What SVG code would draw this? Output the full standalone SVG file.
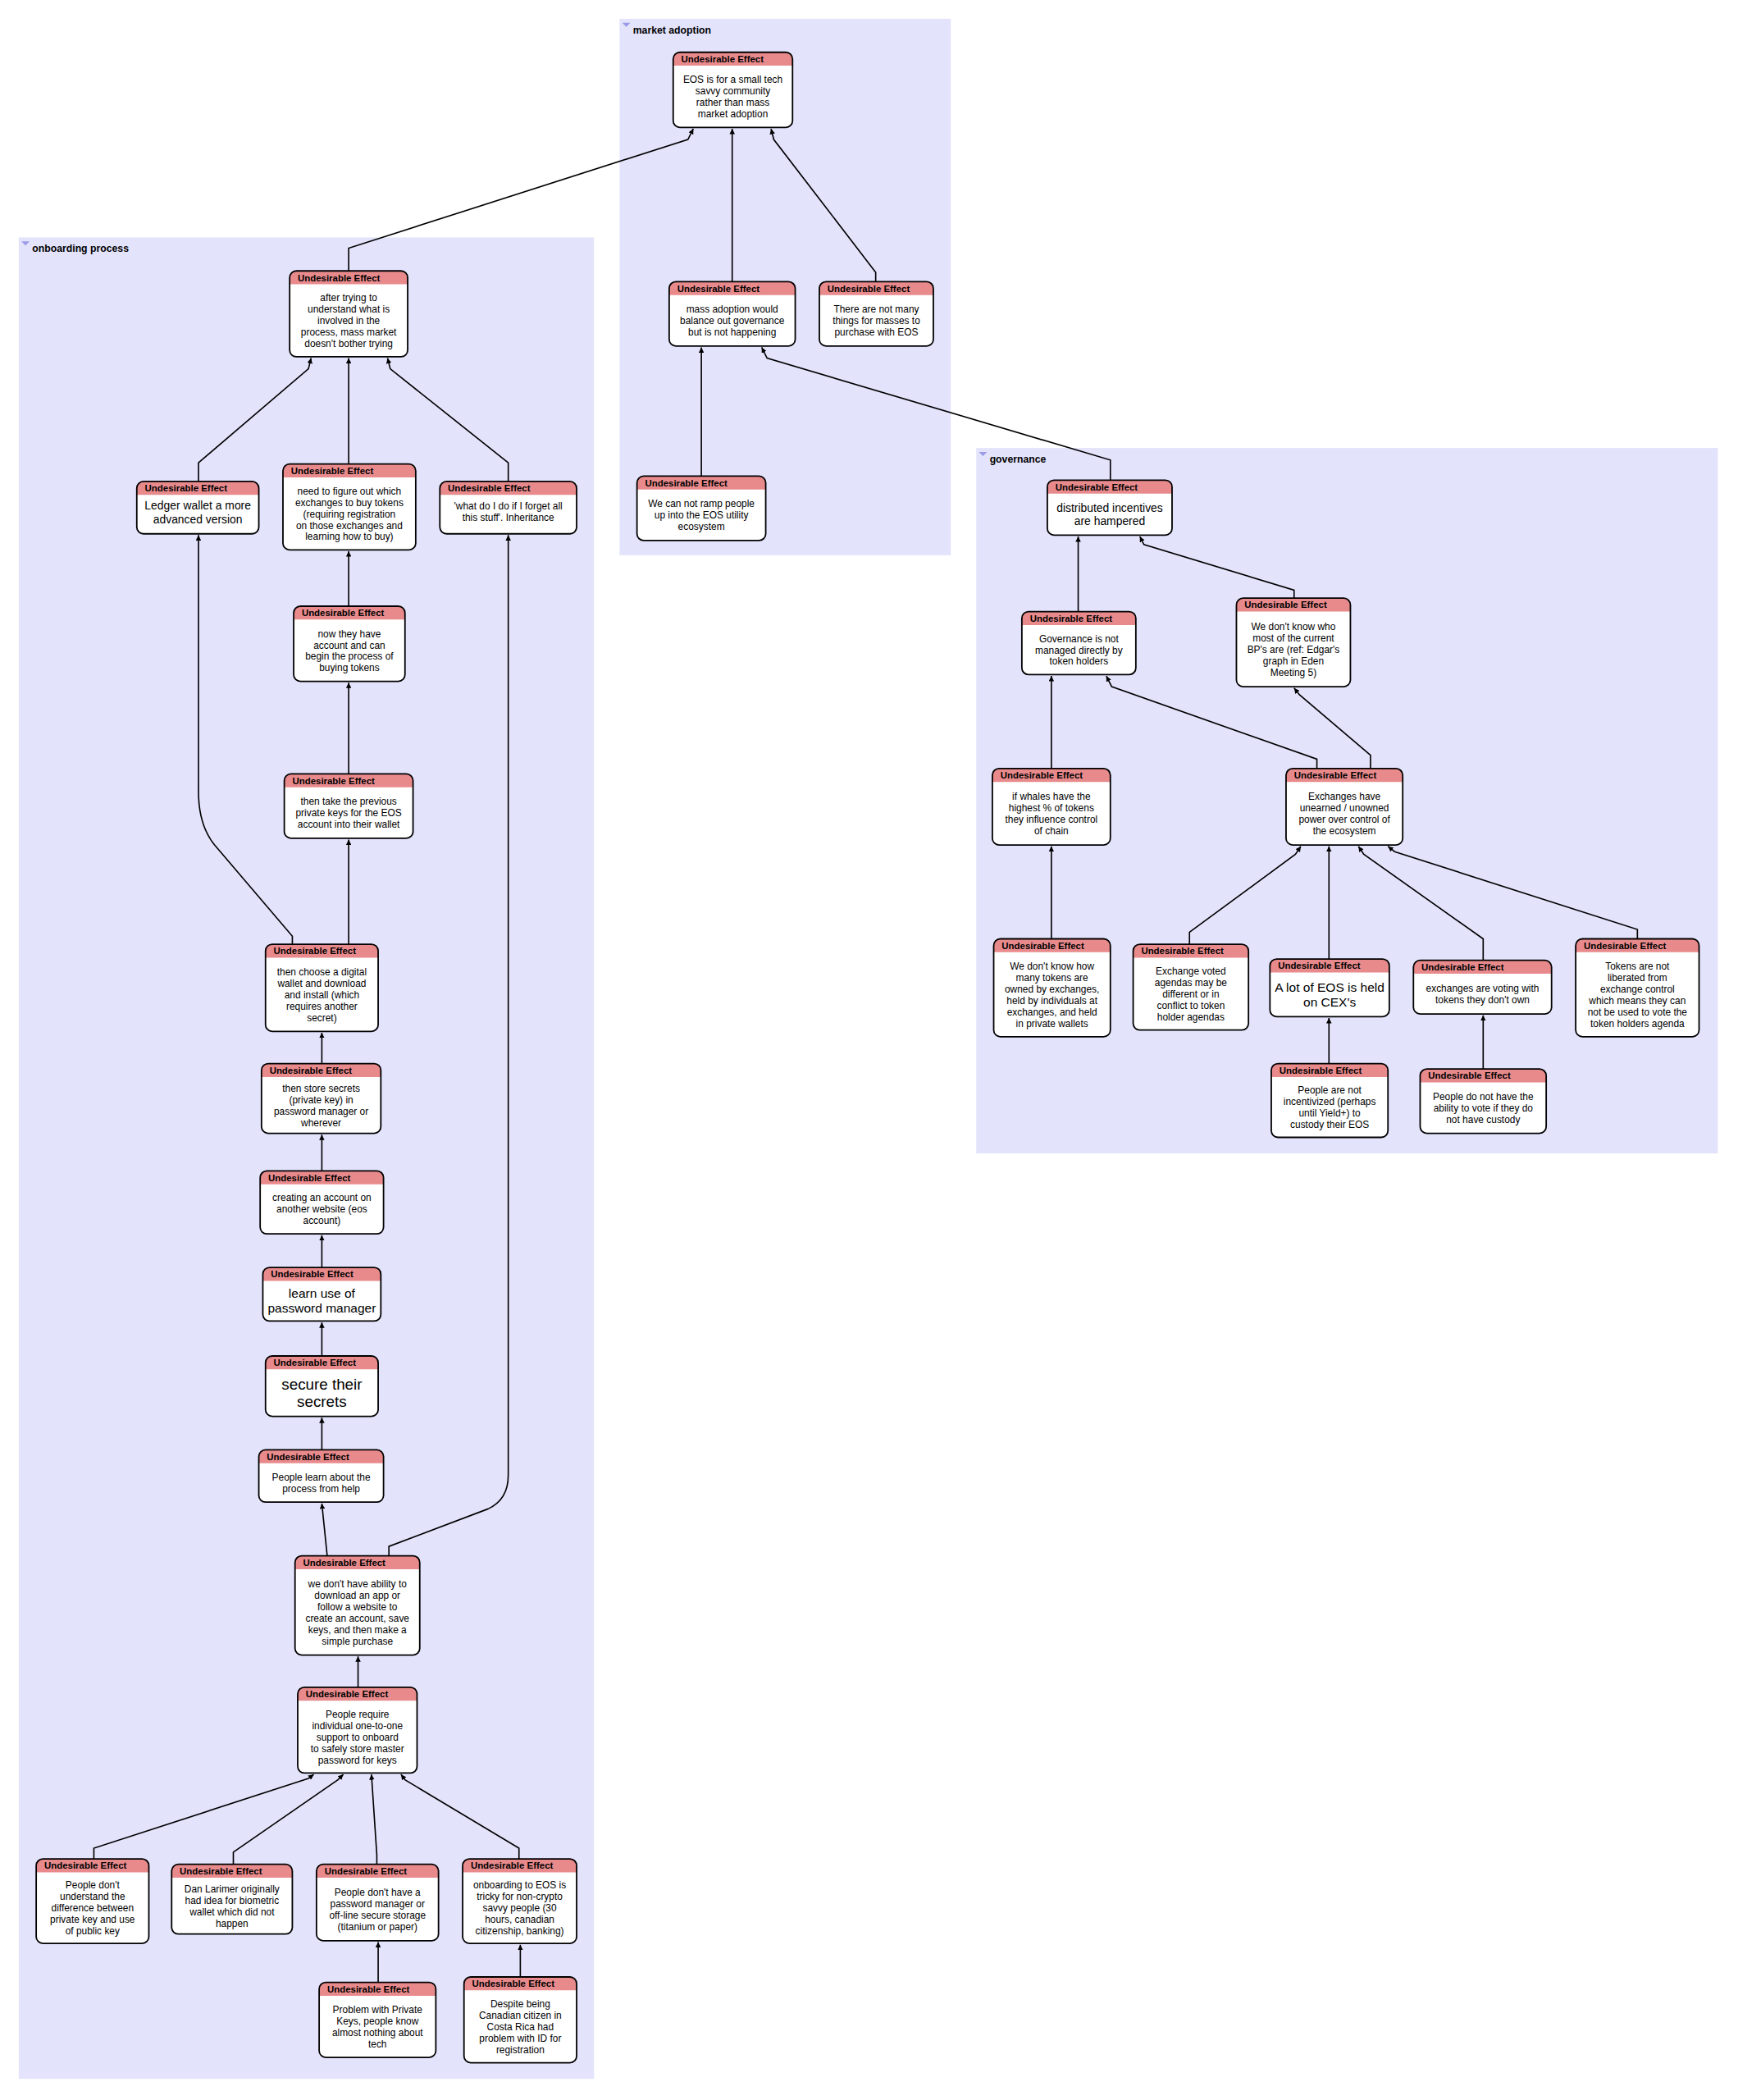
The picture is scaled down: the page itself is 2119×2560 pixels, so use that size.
<svg xmlns="http://www.w3.org/2000/svg" width="2119" height="2560" viewBox="0 0 2119 2560">
<style>
.grp{fill:#e3e3fc}
.gl{font:bold 7.5px "Liberation Sans",Arial,sans-serif;fill:#000}
.tri{fill:#9a9ae8}
.bx{fill:#fff}
.ol{fill:none;stroke:#000;stroke-width:1.1}
.hd{fill:#e88a8c}
.ht{font:bold 7px "Liberation Sans",Arial,sans-serif;fill:#000}
.t{font:7.3px "Liberation Sans",Arial,sans-serif;fill:#000;text-anchor:middle}
.t2{font:8.5px "Liberation Sans",Arial,sans-serif;fill:#000;text-anchor:middle}
.t3{font:9.5px "Liberation Sans",Arial,sans-serif;fill:#000;text-anchor:middle}
.t4{font:11.5px "Liberation Sans",Arial,sans-serif;fill:#000;text-anchor:middle}
.e{fill:none;stroke:#000;stroke-width:1;marker-end:url(#a)}
</style>
<defs>
<marker id="a" viewBox="0 0 10 10" refX="10" refY="5" markerWidth="4" markerHeight="4" orient="auto"><path d="M0,0 L10,5 L0,10 z" fill="#000"/></marker>
</defs>
<rect width="2119" height="2560" fill="#fff"/>
<g transform="scale(1.635)">
<g id="groups">
<rect class="grp" x="462" y="14" width="247" height="400"/><path class="tri" d="M464,17h6l-3,3z"/><text class="gl" x="472" y="25">market adoption</text>
<rect class="grp" x="14" y="177" width="429" height="1373"/><path class="tri" d="M16,180h6l-3,3z"/><text class="gl" x="24" y="188">onboarding process</text>
<rect class="grp" x="728" y="334" width="553" height="526"/><path class="tri" d="M730,337h6l-3,3z"/><text class="gl" x="738" y="345">governance</text>
</g>
<g id="connectors">
<path class="e" d="M260,202V185L513,104L517,96"/>
<path class="e" d="M546,210V96"/>
<path class="e" d="M653,210V203L577,104L575,96"/>
<path class="e" d="M523,355V259"/>
<path class="e" d="M828,358V343L572,267L568,259"/>
<path class="e" d="M148,359V345L230,275L232,267"/>
<path class="e" d="M260,346V267"/>
<path class="e" d="M379,359V345L291,275L289,267"/>
<path class="e" d="M260,452V411"/>
<path class="e" d="M260,577V509"/>
<path class="e" d="M260,704V626"/>
<path class="e" d="M218,704V698L160,630Q148,615 148,590V399"/>
<path class="e" d="M240,793V770"/>
<path class="e" d="M240,873V846"/>
<path class="e" d="M240,945V921"/>
<path class="e" d="M240,1011V986"/>
<path class="e" d="M240,1081V1057"/>
<path class="e" d="M244,1160L240,1121"/>
<path class="e" d="M290,1160V1153L364,1125Q379,1118 379,1100V399"/>
<path class="e" d="M267,1258V1235"/>
<path class="e" d="M70,1386V1378L230,1326L234,1323"/>
<path class="e" d="M174,1390V1381L252,1327L256,1323"/>
<path class="e" d="M281,1390V1383L277,1323"/>
<path class="e" d="M387,1386V1378L302,1327L299,1323"/>
<path class="e" d="M282,1478V1448"/>
<path class="e" d="M388,1474V1450"/>
<path class="e" d="M804,456V400"/>
<path class="e" d="M965,446V440L853,406L850,400"/>
<path class="e" d="M784,573V504"/>
<path class="e" d="M982,573V566L829,512L825,504"/>
<path class="e" d="M1022,573V563L969,518L965,513"/>
<path class="e" d="M784,700V631"/>
<path class="e" d="M887,704V695L966,637L970,631"/>
<path class="e" d="M991,715V631"/>
<path class="e" d="M1106,716V700L1017,637L1013,631"/>
<path class="e" d="M1221,700V693L1040,635L1035,631"/>
<path class="e" d="M991,793V759"/>
<path class="e" d="M1106,797V757"/>
</g>
<g id="M1"><rect class="bx" x="502" y="39" width="89" height="56" rx="5"/><path class="hd" d="M502,49V44Q502,39 507,39H586Q591,39 591,44V49Z"/><rect class="ol" x="502" y="39" width="89" height="56" rx="5"/><text class="ht" x="508" y="46.5">Undesirable Effect</text><text class="t" x="546.5" y="62"><tspan x="546.5">EOS is for a small tech</tspan><tspan x="546.5" dy="8.5">savvy community</tspan><tspan x="546.5" dy="8.5">rather than mass</tspan><tspan x="546.5" dy="8.5">market adoption</tspan></text></g>
<g id="M2"><rect class="bx" x="499" y="210" width="94" height="48" rx="5"/><path class="hd" d="M499,220V215Q499,210 504,210H588Q593,210 593,215V220Z"/><rect class="ol" x="499" y="210" width="94" height="48" rx="5"/><text class="ht" x="505" y="217.5">Undesirable Effect</text><text class="t" x="546" y="233.2"><tspan x="546">mass adoption would</tspan><tspan x="546" dy="8.5">balance out governance</tspan><tspan x="546" dy="8.5">but is not happening</tspan></text></g>
<g id="M3"><rect class="bx" x="611" y="210" width="85" height="48" rx="5"/><path class="hd" d="M611,220V215Q611,210 616,210H691Q696,210 696,215V220Z"/><rect class="ol" x="611" y="210" width="85" height="48" rx="5"/><text class="ht" x="617" y="217.5">Undesirable Effect</text><text class="t" x="653.5" y="233.2"><tspan x="653.5">There are not many</tspan><tspan x="653.5" dy="8.5">things for masses to</tspan><tspan x="653.5" dy="8.5">purchase with EOS</tspan></text></g>
<g id="M4"><rect class="bx" x="475" y="355" width="96" height="48" rx="5"/><path class="hd" d="M475,365V360Q475,355 480,355H566Q571,355 571,360V365Z"/><rect class="ol" x="475" y="355" width="96" height="48" rx="5"/><text class="ht" x="481" y="362.5">Undesirable Effect</text><text class="t" x="523" y="378.2"><tspan x="523">We can not ramp people</tspan><tspan x="523" dy="8.5">up into the EOS utility</tspan><tspan x="523" dy="8.5">ecosystem</tspan></text></g>
<g id="O1"><rect class="bx" x="216" y="202" width="88" height="64" rx="5"/><path class="hd" d="M216,212V207Q216,202 221,202H299Q304,202 304,207V212Z"/><rect class="ol" x="216" y="202" width="88" height="64" rx="5"/><text class="ht" x="222" y="209.5">Undesirable Effect</text><text class="t" x="260" y="224.7"><tspan x="260">after trying to</tspan><tspan x="260" dy="8.5">understand what is</tspan><tspan x="260" dy="8.5">involved in the</tspan><tspan x="260" dy="8.5">process, mass market</tspan><tspan x="260" dy="8.5">doesn't bother trying</tspan></text></g>
<g id="O2"><rect class="bx" x="102" y="359" width="91" height="39" rx="5"/><path class="hd" d="M102,369V364Q102,359 107,359H188Q193,359 193,364V369Z"/><rect class="ol" x="102" y="359" width="91" height="39" rx="5"/><text class="ht" x="108" y="366.5">Undesirable Effect</text><text class="t2" x="147.5" y="380"><tspan x="147.5">Ledger wallet a more</tspan><tspan x="147.5" dy="10">advanced version</tspan></text></g>
<g id="O3"><rect class="bx" x="211" y="346" width="99" height="64" rx="5"/><path class="hd" d="M211,356V351Q211,346 216,346H305Q310,346 310,351V356Z"/><rect class="ol" x="211" y="346" width="99" height="64" rx="5"/><text class="ht" x="217" y="353.5">Undesirable Effect</text><text class="t" x="260.5" y="368.7"><tspan x="260.5">need to figure out which</tspan><tspan x="260.5" dy="8.5">exchanges to buy tokens</tspan><tspan x="260.5" dy="8.5">(requiring registration</tspan><tspan x="260.5" dy="8.5">on those exchanges and</tspan><tspan x="260.5" dy="8.5">learning how to buy)</tspan></text></g>
<g id="O4"><rect class="bx" x="328" y="359" width="102" height="39" rx="5"/><path class="hd" d="M328,369V364Q328,359 333,359H425Q430,359 430,364V369Z"/><rect class="ol" x="328" y="359" width="102" height="39" rx="5"/><text class="ht" x="334" y="366.5">Undesirable Effect</text><text class="t" x="379" y="380"><tspan x="379">'what do I do if I forget all</tspan><tspan x="379" dy="8.5">this stuff'. Inheritance</tspan></text></g>
<g id="O5"><rect class="bx" x="219" y="452" width="83" height="56" rx="5"/><path class="hd" d="M219,462V457Q219,452 224,452H297Q302,452 302,457V462Z"/><rect class="ol" x="219" y="452" width="83" height="56" rx="5"/><text class="ht" x="225" y="459.5">Undesirable Effect</text><text class="t" x="260.5" y="475"><tspan x="260.5">now they have</tspan><tspan x="260.5" dy="8.5">account and can</tspan><tspan x="260.5" dy="8.5">begin the process of</tspan><tspan x="260.5" dy="8.5">buying tokens</tspan></text></g>
<g id="O6"><rect class="bx" x="212" y="577" width="96" height="48" rx="5"/><path class="hd" d="M212,587V582Q212,577 217,577H303Q308,577 308,582V587Z"/><rect class="ol" x="212" y="577" width="96" height="48" rx="5"/><text class="ht" x="218" y="584.5">Undesirable Effect</text><text class="t" x="260" y="600.2"><tspan x="260">then take the previous</tspan><tspan x="260" dy="8.5">private keys for the EOS</tspan><tspan x="260" dy="8.5">account into their wallet</tspan></text></g>
<g id="O7"><rect class="bx" x="198" y="704" width="84" height="65" rx="5"/><path class="hd" d="M198,714V709Q198,704 203,704H277Q282,704 282,709V714Z"/><rect class="ol" x="198" y="704" width="84" height="65" rx="5"/><text class="ht" x="204" y="711.5">Undesirable Effect</text><text class="t" x="240" y="727.2"><tspan x="240">then choose a digital</tspan><tspan x="240" dy="8.5">wallet and download</tspan><tspan x="240" dy="8.5">and install (which</tspan><tspan x="240" dy="8.5">requires another</tspan><tspan x="240" dy="8.5">secret)</tspan></text></g>
<g id="O8"><rect class="bx" x="195" y="793" width="89" height="52" rx="5"/><path class="hd" d="M195,803V798Q195,793 200,793H279Q284,793 284,798V803Z"/><rect class="ol" x="195" y="793" width="89" height="52" rx="5"/><text class="ht" x="201" y="800.5">Undesirable Effect</text><text class="t" x="239.5" y="814"><tspan x="239.5">then store secrets</tspan><tspan x="239.5" dy="8.5">(private key) in</tspan><tspan x="239.5" dy="8.5">password manager or</tspan><tspan x="239.5" dy="8.5">wherever</tspan></text></g>
<g id="O9"><rect class="bx" x="194" y="873" width="92" height="47" rx="5"/><path class="hd" d="M194,883V878Q194,873 199,873H281Q286,873 286,878V883Z"/><rect class="ol" x="194" y="873" width="92" height="47" rx="5"/><text class="ht" x="200" y="880.5">Undesirable Effect</text><text class="t" x="240" y="895.7"><tspan x="240">creating an account on</tspan><tspan x="240" dy="8.5">another website (eos</tspan><tspan x="240" dy="8.5">account)</tspan></text></g>
<g id="O10"><rect class="bx" x="196" y="945" width="88" height="40" rx="5"/><path class="hd" d="M196,955V950Q196,945 201,945H279Q284,945 284,950V955Z"/><rect class="ol" x="196" y="945" width="88" height="40" rx="5"/><text class="ht" x="202" y="952.5">Undesirable Effect</text><text class="t3" x="240" y="967.8"><tspan x="240">learn use of</tspan><tspan x="240" dy="11">password manager</tspan></text></g>
<g id="O11"><rect class="bx" x="198" y="1011" width="84" height="45" rx="5"/><path class="hd" d="M198,1021V1016Q198,1011 203,1011H277Q282,1011 282,1016V1021Z"/><rect class="ol" x="198" y="1011" width="84" height="45" rx="5"/><text class="ht" x="204" y="1018.5">Undesirable Effect</text><text class="t4" x="240" y="1036"><tspan x="240">secure their</tspan><tspan x="240" dy="13">secrets</tspan></text></g>
<g id="O12"><rect class="bx" x="193" y="1081" width="93" height="39" rx="5"/><path class="hd" d="M193,1091V1086Q193,1081 198,1081H281Q286,1081 286,1086V1091Z"/><rect class="ol" x="193" y="1081" width="93" height="39" rx="5"/><text class="ht" x="199" y="1088.5">Undesirable Effect</text><text class="t" x="239.5" y="1104"><tspan x="239.5">People learn about the</tspan><tspan x="239.5" dy="8.5">process from help</tspan></text></g>
<g id="O13"><rect class="bx" x="220" y="1160" width="93" height="74" rx="5"/><path class="hd" d="M220,1170V1165Q220,1160 225,1160H308Q313,1160 313,1165V1170Z"/><rect class="ol" x="220" y="1160" width="93" height="74" rx="5"/><text class="ht" x="226" y="1167.5">Undesirable Effect</text><text class="t" x="266.5" y="1183.5"><tspan x="266.5">we don't have ability to</tspan><tspan x="266.5" dy="8.5">download an app or</tspan><tspan x="266.5" dy="8.5">follow a website to</tspan><tspan x="266.5" dy="8.5">create an account, save</tspan><tspan x="266.5" dy="8.5">keys, and then make a</tspan><tspan x="266.5" dy="8.5">simple purchase</tspan></text></g>
<g id="O14"><rect class="bx" x="222" y="1258" width="89" height="64" rx="5"/><path class="hd" d="M222,1268V1263Q222,1258 227,1258H306Q311,1258 311,1263V1268Z"/><rect class="ol" x="222" y="1258" width="89" height="64" rx="5"/><text class="ht" x="228" y="1265.5">Undesirable Effect</text><text class="t" x="266.5" y="1280.7"><tspan x="266.5">People require</tspan><tspan x="266.5" dy="8.5">individual one-to-one</tspan><tspan x="266.5" dy="8.5">support to onboard</tspan><tspan x="266.5" dy="8.5">to safely store master</tspan><tspan x="266.5" dy="8.5">password for keys</tspan></text></g>
<g id="O15"><rect class="bx" x="27" y="1386" width="84" height="63" rx="5"/><path class="hd" d="M27,1396V1391Q27,1386 32,1386H106Q111,1386 111,1391V1396Z"/><rect class="ol" x="27" y="1386" width="84" height="63" rx="5"/><text class="ht" x="33" y="1393.5">Undesirable Effect</text><text class="t" x="69" y="1408.2"><tspan x="69">People don't</tspan><tspan x="69" dy="8.5">understand the</tspan><tspan x="69" dy="8.5">difference between</tspan><tspan x="69" dy="8.5">private key and use</tspan><tspan x="69" dy="8.5">of public key</tspan></text></g>
<g id="O16"><rect class="bx" x="128" y="1390" width="90" height="52" rx="5"/><path class="hd" d="M128,1400V1395Q128,1390 133,1390H213Q218,1390 218,1395V1400Z"/><rect class="ol" x="128" y="1390" width="90" height="52" rx="5"/><text class="ht" x="134" y="1397.5">Undesirable Effect</text><text class="t" x="173" y="1411"><tspan x="173">Dan Larimer originally</tspan><tspan x="173" dy="8.5">had idea for biometric</tspan><tspan x="173" dy="8.5">wallet which did not</tspan><tspan x="173" dy="8.5">happen</tspan></text></g>
<g id="O17"><rect class="bx" x="236" y="1390" width="91" height="57" rx="5"/><path class="hd" d="M236,1400V1395Q236,1390 241,1390H322Q327,1390 327,1395V1400Z"/><rect class="ol" x="236" y="1390" width="91" height="57" rx="5"/><text class="ht" x="242" y="1397.5">Undesirable Effect</text><text class="t" x="281.5" y="1413.5"><tspan x="281.5">People don't have a</tspan><tspan x="281.5" dy="8.5">password manager or</tspan><tspan x="281.5" dy="8.5">off-line secure storage</tspan><tspan x="281.5" dy="8.5">(titanium or paper)</tspan></text></g>
<g id="O18"><rect class="bx" x="345" y="1386" width="85" height="63" rx="5"/><path class="hd" d="M345,1396V1391Q345,1386 350,1386H425Q430,1386 430,1391V1396Z"/><rect class="ol" x="345" y="1386" width="85" height="63" rx="5"/><text class="ht" x="351" y="1393.5">Undesirable Effect</text><text class="t" x="387.5" y="1408.2"><tspan x="387.5">onboarding to EOS is</tspan><tspan x="387.5" dy="8.5">tricky for non-crypto</tspan><tspan x="387.5" dy="8.5">savvy people (30</tspan><tspan x="387.5" dy="8.5">hours, canadian</tspan><tspan x="387.5" dy="8.5">citizenship, banking)</tspan></text></g>
<g id="O19"><rect class="bx" x="238" y="1478" width="87" height="56" rx="5"/><path class="hd" d="M238,1488V1483Q238,1478 243,1478H320Q325,1478 325,1483V1488Z"/><rect class="ol" x="238" y="1478" width="87" height="56" rx="5"/><text class="ht" x="244" y="1485.5">Undesirable Effect</text><text class="t" x="281.5" y="1501"><tspan x="281.5">Problem with Private</tspan><tspan x="281.5" dy="8.5">Keys, people know</tspan><tspan x="281.5" dy="8.5">almost nothing about</tspan><tspan x="281.5" dy="8.5">tech</tspan></text></g>
<g id="O20"><rect class="bx" x="346" y="1474" width="84" height="64" rx="5"/><path class="hd" d="M346,1484V1479Q346,1474 351,1474H425Q430,1474 430,1479V1484Z"/><rect class="ol" x="346" y="1474" width="84" height="64" rx="5"/><text class="ht" x="352" y="1481.5">Undesirable Effect</text><text class="t" x="388" y="1496.7"><tspan x="388">Despite being</tspan><tspan x="388" dy="8.5">Canadian citizen in</tspan><tspan x="388" dy="8.5">Costa Rica had</tspan><tspan x="388" dy="8.5">problem with ID for</tspan><tspan x="388" dy="8.5">registration</tspan></text></g>
<g id="G1"><rect class="bx" x="781" y="358" width="93" height="41" rx="5"/><path class="hd" d="M781,368V363Q781,358 786,358H869Q874,358 874,363V368Z"/><rect class="ol" x="781" y="358" width="93" height="41" rx="5"/><text class="ht" x="787" y="365.5">Undesirable Effect</text><text class="t2" x="827.5" y="381.5"><tspan x="827.5">distributed incentives</tspan><tspan x="827.5" dy="10">are hampered</tspan></text></g>
<g id="G2"><rect class="bx" x="762" y="456" width="85" height="47" rx="5"/><path class="hd" d="M762,466V461Q762,456 767,456H842Q847,456 847,461V466Z"/><rect class="ol" x="762" y="456" width="85" height="47" rx="5"/><text class="ht" x="768" y="463.5">Undesirable Effect</text><text class="t" x="804.5" y="478.7"><tspan x="804.5">Governance is not</tspan><tspan x="804.5" dy="8.5">managed directly by</tspan><tspan x="804.5" dy="8.5">token holders</tspan></text></g>
<g id="G3"><rect class="bx" x="922" y="446" width="85" height="66" rx="5"/><path class="hd" d="M922,456V451Q922,446 927,446H1002Q1007,446 1007,451V456Z"/><rect class="ol" x="922" y="446" width="85" height="66" rx="5"/><text class="ht" x="928" y="453.5">Undesirable Effect</text><text class="t" x="964.5" y="469.7"><tspan x="964.5">We don't know who</tspan><tspan x="964.5" dy="8.5">most of the current</tspan><tspan x="964.5" dy="8.5">BP's are (ref: Edgar's</tspan><tspan x="964.5" dy="8.5">graph in Eden</tspan><tspan x="964.5" dy="8.5">Meeting 5)</tspan></text></g>
<g id="G4"><rect class="bx" x="740" y="573" width="88" height="57" rx="5"/><path class="hd" d="M740,583V578Q740,573 745,573H823Q828,573 828,578V583Z"/><rect class="ol" x="740" y="573" width="88" height="57" rx="5"/><text class="ht" x="746" y="580.5">Undesirable Effect</text><text class="t" x="784" y="596.5"><tspan x="784">if whales have the</tspan><tspan x="784" dy="8.5">highest % of tokens</tspan><tspan x="784" dy="8.5">they influence control</tspan><tspan x="784" dy="8.5">of chain</tspan></text></g>
<g id="G5"><rect class="bx" x="959" y="573" width="87" height="57" rx="5"/><path class="hd" d="M959,583V578Q959,573 964,573H1041Q1046,573 1046,578V583Z"/><rect class="ol" x="959" y="573" width="87" height="57" rx="5"/><text class="ht" x="965" y="580.5">Undesirable Effect</text><text class="t" x="1002.5" y="596.5"><tspan x="1002.5">Exchanges have</tspan><tspan x="1002.5" dy="8.5">unearned / unowned</tspan><tspan x="1002.5" dy="8.5">power over control of</tspan><tspan x="1002.5" dy="8.5">the ecosystem</tspan></text></g>
<g id="G6"><rect class="bx" x="741" y="700" width="87" height="73" rx="5"/><path class="hd" d="M741,710V705Q741,700 746,700H823Q828,700 828,705V710Z"/><rect class="ol" x="741" y="700" width="87" height="73" rx="5"/><text class="ht" x="747" y="707.5">Undesirable Effect</text><text class="t" x="784.5" y="723"><tspan x="784.5">We don't know how</tspan><tspan x="784.5" dy="8.5">many tokens are</tspan><tspan x="784.5" dy="8.5">owned by exchanges,</tspan><tspan x="784.5" dy="8.5">held by individuals at</tspan><tspan x="784.5" dy="8.5">exchanges, and held</tspan><tspan x="784.5" dy="8.5">in private wallets</tspan></text></g>
<g id="G7"><rect class="bx" x="845" y="704" width="86" height="64" rx="5"/><path class="hd" d="M845,714V709Q845,704 850,704H926Q931,704 931,709V714Z"/><rect class="ol" x="845" y="704" width="86" height="64" rx="5"/><text class="ht" x="851" y="711.5">Undesirable Effect</text><text class="t" x="888" y="726.7"><tspan x="888">Exchange voted</tspan><tspan x="888" dy="8.5">agendas may be</tspan><tspan x="888" dy="8.5">different or in</tspan><tspan x="888" dy="8.5">conflict to token</tspan><tspan x="888" dy="8.5">holder agendas</tspan></text></g>
<g id="G8"><rect class="bx" x="947" y="715" width="89" height="43" rx="5"/><path class="hd" d="M947,725V720Q947,715 952,715H1031Q1036,715 1036,720V725Z"/><rect class="ol" x="947" y="715" width="89" height="43" rx="5"/><text class="ht" x="953" y="722.5">Undesirable Effect</text><text class="t3" x="991.5" y="739.3"><tspan x="991.5">A lot of EOS is held</tspan><tspan x="991.5" dy="11">on CEX's</tspan></text></g>
<g id="G9"><rect class="bx" x="1054" y="716" width="103" height="40" rx="5"/><path class="hd" d="M1054,726V721Q1054,716 1059,716H1152Q1157,716 1157,721V726Z"/><rect class="ol" x="1054" y="716" width="103" height="40" rx="5"/><text class="ht" x="1060" y="723.5">Undesirable Effect</text><text class="t" x="1105.5" y="739.5"><tspan x="1105.5">exchanges are voting with</tspan><tspan x="1105.5" dy="8.5">tokens they don't own</tspan></text></g>
<g id="G10"><rect class="bx" x="1175" y="700" width="92" height="73" rx="5"/><path class="hd" d="M1175,710V705Q1175,700 1180,700H1262Q1267,700 1267,705V710Z"/><rect class="ol" x="1175" y="700" width="92" height="73" rx="5"/><text class="ht" x="1181" y="707.5">Undesirable Effect</text><text class="t" x="1221" y="723"><tspan x="1221">Tokens are not</tspan><tspan x="1221" dy="8.5">liberated from</tspan><tspan x="1221" dy="8.5">exchange control</tspan><tspan x="1221" dy="8.5">which means they can</tspan><tspan x="1221" dy="8.5">not be used to vote the</tspan><tspan x="1221" dy="8.5">token holders agenda</tspan></text></g>
<g id="G11"><rect class="bx" x="948" y="793" width="87" height="55" rx="5"/><path class="hd" d="M948,803V798Q948,793 953,793H1030Q1035,793 1035,798V803Z"/><rect class="ol" x="948" y="793" width="87" height="55" rx="5"/><text class="ht" x="954" y="800.5">Undesirable Effect</text><text class="t" x="991.5" y="815.5"><tspan x="991.5">People are not</tspan><tspan x="991.5" dy="8.5">incentivized (perhaps</tspan><tspan x="991.5" dy="8.5">until Yield+) to</tspan><tspan x="991.5" dy="8.5">custody their EOS</tspan></text></g>
<g id="G12"><rect class="bx" x="1059" y="797" width="94" height="48" rx="5"/><path class="hd" d="M1059,807V802Q1059,797 1064,797H1148Q1153,797 1153,802V807Z"/><rect class="ol" x="1059" y="797" width="94" height="48" rx="5"/><text class="ht" x="1065" y="804.5">Undesirable Effect</text><text class="t" x="1106" y="820.2"><tspan x="1106">People do not have the</tspan><tspan x="1106" dy="8.5">ability to vote if they do</tspan><tspan x="1106" dy="8.5">not have custody</tspan></text></g>
</g>
</svg>
